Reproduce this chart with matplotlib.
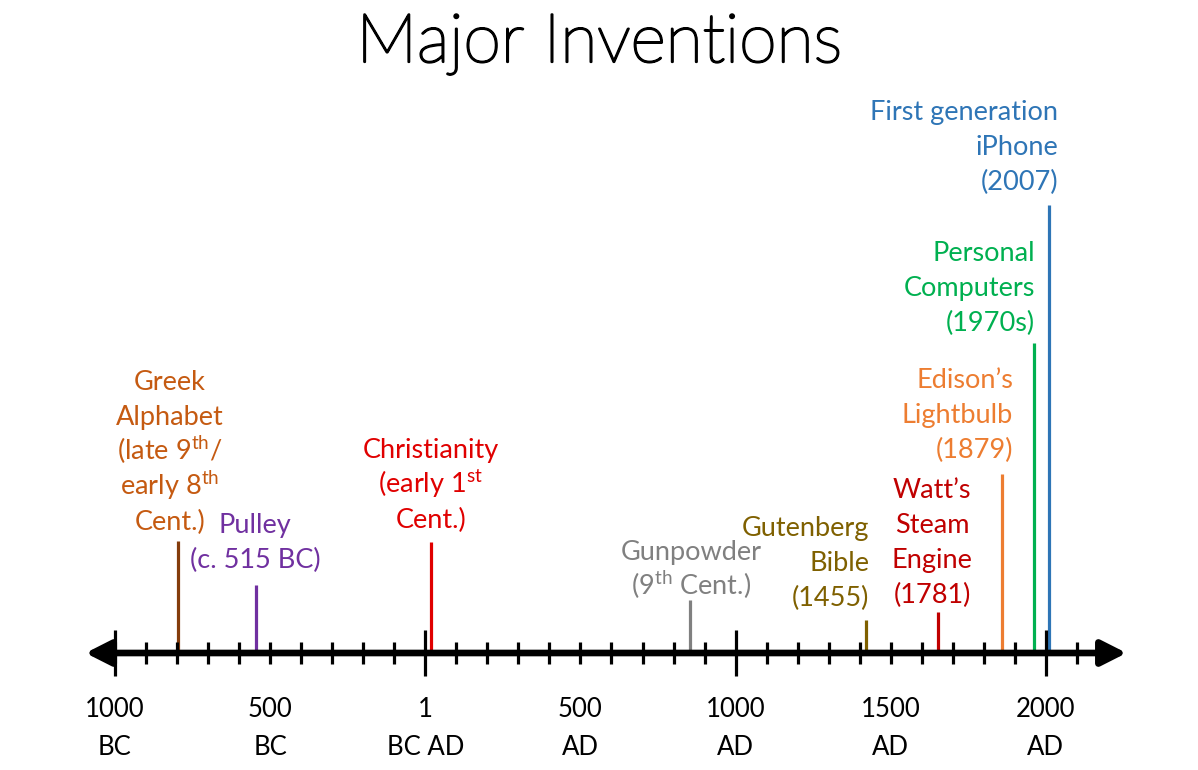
import matplotlib.pyplot as plt
import matplotlib.patheffects as pe

plt.rcParams['font.family'] = ['Lato', 'DejaVu Sans']
plt.rcParams['mathtext.fontset'] = 'custom'
plt.rcParams['mathtext.rm'] = 'Lato'

# timeline data
labels = [
    ['Greek', 'Alphabet', '(late 9$^{\\rm th}$/', 'early 8$^{\\rm th}$', 'Cent.)'],
    ['Pulley', '(c. 515 BC)'],
    ['Christianity', '(early 1$^{\\rm st}$', 'Cent.)'],
    ['Gunpowder', '(9$^{\\rm th}$ Cent.)'],
    ['Gutenberg', 'Bible', '(1455)'],
    ["Watt\u2019s", 'Steam', 'Engine', '(1781)'],
    ["Edison\u2019s", 'Lightbulb', '(1879)'],
    ['Personal', 'Computers', '(1970s)'],
    ['First generation', 'iPhone', '(2007)'],
]
years = [-796, -547, 18, 853, 1419, 1653, 1859, 1963, 2011]
heights = [112, 68, 111, 53, 33, 41, 179, 310, 448]
line_colors = ['#843C0C', '#7030A0', '#E00000', '#808080', '#7F6000',
               '#C00000', '#ED7D31', '#00B050', '#2E75B6']
text_colors = ['#C55A11', '#7030A0', '#E00000', '#808080', '#7F6000',
               '#C00000', '#ED7D31', '#00B050', '#2E75B6']

major_years = [-1000, 0, 1000, 2000]
minor_years = [y for y in range(-900, 2200, 100) if y % 1000 != 0]
tick_years = [-1000, -500, 0, 500, 1000, 1500, 2000]
tick_labels = [['1000', 'BC'], ['500', 'BC'], ['1', 'BC AD'], ['500', 'AD'],
               ['1000', 'AD'], ['1500', 'AD'], ['2000', 'AD']]

# label placement: anchor x shift (years), alignment, gap above line top
label_dx = [-27, -2, 0, 3, 11, -20, 35, 2, 28]
label_ha = ['center', 'center', 'center', 'center', 'right', 'center', 'right', 'right', 'right']
label_gap = [11, 17, 14, 5, 14, 9, 16, 12, 15]
pitch = 35

fig = plt.figure(figsize=(11.98, 7.70), dpi=100)
ax = fig.add_axes([0, 0, 1, 1])
px = 0.3103  # pixels per year
ax.set_xlim(-425.3 / px, (1198 - 425.3) / px)
ax.set_ylim(653 - 770, 653)
ax.axis('off')

# main axis with arrows at both ends
ax.annotate('', xy=(-1095, 0), xytext=(2260, 0),
            arrowprops=dict(arrowstyle='<|-|>,head_length=0.75,head_width=0.38',
                            mutation_scale=20, lw=4.8, color='black',
                            shrinkA=0, shrinkB=0), zorder=3)
ax.vlines(major_years, -23, 23, color='black', lw=2.3, zorder=3)
ax.vlines(minor_years, -11, 11, color='black', lw=2.3, zorder=3)

for x, lines in zip(tick_years, tick_labels):
    for i, s in enumerate(lines):
        ax.text(x, -64 - 38 * i, s, ha='center', va='baseline',
                fontsize=18.5, color='black')

# events
ax.vlines(years, 0, heights, colors=line_colors, lw=2.3, zorder=2)
for lines, x, h, c, dx, ha, g in zip(labels, years, heights, text_colors,
                                     label_dx, label_ha, label_gap):
    n = len(lines)
    for i, s in enumerate(lines):
        ax.text(x + dx, h + g + (n - 1 - i) * pitch, s, ha=ha, va='baseline',
                fontsize=19.5, color=c)

fig.text(0.5, 1 - 62 / 770, 'Major Inventions', ha='center', va='baseline',
         fontsize=49, fontweight='light', color='black',
         path_effects=[pe.withStroke(linewidth=1.6, foreground='black')])

fig.savefig('out.png', dpi=100)
